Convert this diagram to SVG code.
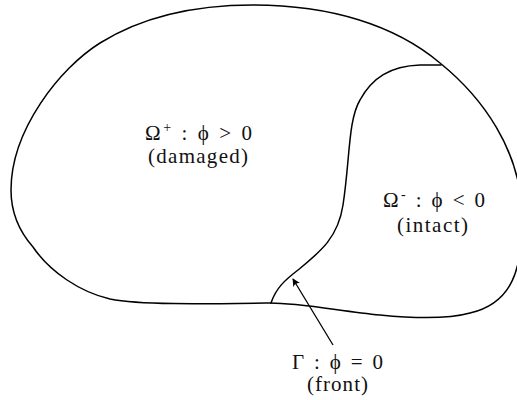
<svg xmlns="http://www.w3.org/2000/svg" width="517" height="400" viewBox="0 0 517 400">
<style>
.ln{fill:none;stroke:#000;stroke-width:1.5;stroke-linecap:round}
.t{font-family:"Liberation Serif","DejaVu Serif",serif;font-size:21px;fill:#111}
.sup{font-size:14px}
</style>
<defs>
<marker id="ah" viewBox="0 0 10 10" refX="9" refY="5" markerWidth="8" markerHeight="8" markerUnits="userSpaceOnUse" orient="auto">
<path d="M0,0 Q4,5 0,10 L10,5 Z" fill="#000"/>
</marker>
</defs>
<rect width="517" height="400" fill="#fff"/>
<g id="domain">
<path class="ln" d="M270,303 C200,304 140,305 110,299 C80,292 50,272 33,247 C18,230 11,210 11,190 C11,130 60,68 100,43 C145,15 200,5 253,5 C330,5 395,25 440,63 C482,97 521,150 522,215 C523,270 512,303 470,313 C445,320 410,318 380,315 C340,311 300,303 270,303 Z"/>
</g>
<g id="front">
<path class="ln" d="M271,303 C276,288 285,280 298,270 C320,252 338,238 343,205 C350,160 348,120 360,100 C372,78 390,66 420,65 L441,65"/>
</g>
<g id="connectors">
<line x1="333" y1="345" x2="293" y2="279" stroke="#000" stroke-width="1.3" marker-end="url(#ah)"/>
</g>
<g id="omega-plus">
<text class="t" x="145" y="140" textLength="107" lengthAdjust="spacing">Ω<tspan class="sup" dy="-8">+</tspan><tspan dy="8"> : ϕ &gt; 0</tspan></text>
<text class="t" x="148" y="163" textLength="100" lengthAdjust="spacing">(damaged)</text>
</g>
<g id="omega-minus">
<text class="t" x="383" y="207" textLength="102" lengthAdjust="spacing">Ω<tspan class="sup" dy="-8">-</tspan><tspan dy="8"> : ϕ &lt; 0</tspan></text>
<text class="t" x="397" y="232" textLength="71" lengthAdjust="spacing">(intact)</text>
</g>
<g id="gamma">
<text class="t" x="292" y="369" textLength="91" lengthAdjust="spacing">Γ : ϕ = 0</text>
<text class="t" x="307" y="391" textLength="61" lengthAdjust="spacing">(front)</text>
</g>
</svg>
